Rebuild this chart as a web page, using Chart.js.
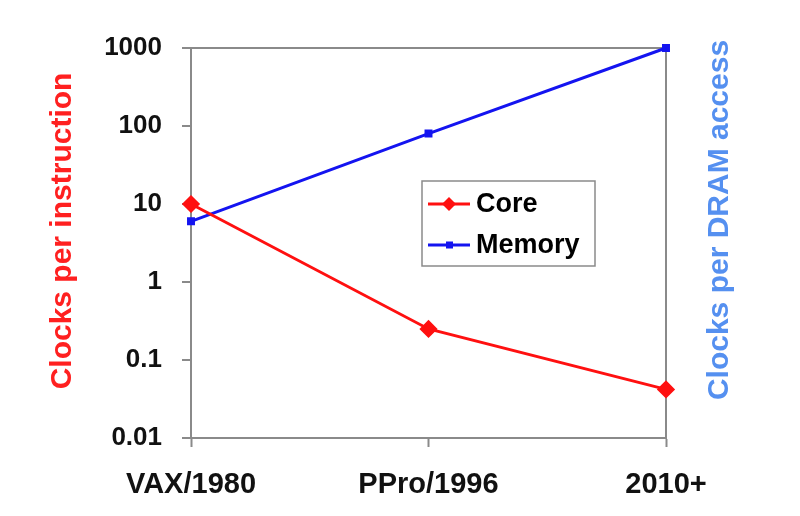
<!DOCTYPE html>
<html>
<head>
<meta charset="utf-8">
<script src="https://cdn.jsdelivr.net/npm/chart.js@4/dist/chart.umd.min.js"></script>
<style>
  html, body { margin: 0; padding: 0; background: #fff; }
  #wrap { width: 800px; height: 516px; }
</style>
</head>
<body>
<div id="wrap"><canvas id="chart"></canvas></div>
<script>
const labels = ["VAX/1980", "PPro/1996", "2010+"];
const coreValues = [10, 0.25, 0.042];
const memoryValues = [6, 80, 1000];
const yTicks = [0.01, 0.1, 1, 10, 100, 1000];
const leftTitle = "Clocks per instruction";
const rightTitle = "Clocks per DRAM access";

const axisGrey = "#8a8a8a";
const FONT = "'Liberation Sans', Arial, sans-serif";

// both axis titles read bottom-to-top in the original, so draw them here
const sideTitles = {
  id: "sideTitles",
  afterDraw(chart) {
    const ctx = chart.ctx;
    ctx.save();
    ctx.font = "bold 30px " + FONT;
    ctx.textAlign = "center";
    ctx.textBaseline = "middle";
    [[63, 231, leftTitle, "#ff2020"], [720, 220, rightTitle, "#5590f0"]].forEach(t => {
      ctx.save();
      ctx.translate(t[0], t[1]);
      ctx.rotate(-Math.PI / 2);
      ctx.fillStyle = t[3];
      ctx.fillText(t[2], 0, 0);
      ctx.restore();
    });
    ctx.restore();
  }
};

// legend box drawn inside the plot, like the original
const boxLegend = {
  id: "boxLegend",
  afterDraw(chart) {
    const ctx = chart.ctx;
    const x = 422, y = 181, w = 173, h = 85;
    ctx.save();
    ctx.fillStyle = "#fff";
    ctx.fillRect(x, y, w, h);
    ctx.strokeStyle = axisGrey;
    ctx.lineWidth = 1.5;
    ctx.strokeRect(x, y, w, h);
    ctx.font = "bold 27px " + FONT;
    ctx.textBaseline = "middle";
    chart.data.datasets.forEach((ds, i) => {
      const cy = i == 0 ? 204 : 245;
      ctx.strokeStyle = ds.borderColor;
      ctx.lineWidth = 3;
      ctx.beginPath();
      ctx.moveTo(428, cy);
      ctx.lineTo(470, cy);
      ctx.stroke();
      ctx.fillStyle = ds.borderColor;
      ctx.beginPath();
      if (ds.pointStyle == "rectRot") {
        ctx.moveTo(449, cy - 7);
        ctx.lineTo(456, cy);
        ctx.lineTo(449, cy + 7);
        ctx.lineTo(442, cy);
        ctx.closePath();
        ctx.fill();
      } else {
        ctx.fillRect(446, cy - 3.5, 7, 7);
      }
      ctx.fillStyle = "#000";
      ctx.fillText(ds.label, 476, cy + 1);
    });
    ctx.restore();
  }
};

new Chart(document.getElementById("chart"), {
  type: "line",
  data: {
    labels: labels,
    datasets: [{
      label: "Core",
      data: coreValues,
      borderColor: "#ff1010",
      backgroundColor: "#ff1010",
      borderWidth: 3,
      pointStyle: "rectRot",
      pointRadius: 7,
      clip: false
    }, {
      label: "Memory",
      data: memoryValues,
      borderColor: "#1414f0",
      backgroundColor: "#1414f0",
      borderWidth: 3,
      pointStyle: "rect",
      pointRadius: 3.5,
      clip: false
    }]
  },
  options: {
    responsive: true,
    maintainAspectRatio: false,
    animation: false,
    layout: { padding: { top: 48, left: 0, right: 0, bottom: 0 } },
    plugins: {
      legend: { display: false },
      tooltip: { enabled: false }
    },
    scales: {
      x: {
        offset: false,
        grid: {
          drawOnChartArea: false,
          tickLength: 9,
          tickColor: axisGrey,
          tickWidth: 2
        },
        border: { color: axisGrey, width: 2 },
        ticks: {
          color: "#111",
          padding: 21,
          maxRotation: 0,
          font: { family: FONT, size: 29, weight: "bold" }
        },
        afterFit(scale) { scale.height = 78; }
      },
      y: {
        type: "logarithmic",
        position: "left",
        min: 0.01,
        max: 1000,
        afterBuildTicks(scale) {
          scale.ticks = yTicks.map(v => ({ value: v }));
        },
        grid: {
          color: c => (c.tick && c.tick.value == 1000) ? axisGrey : "transparent",
          lineWidth: 2,
          tickLength: 9,
          tickColor: axisGrey,
          tickWidth: 2
        },
        border: { color: axisGrey, width: 2 },
        ticks: {
          color: "#111",
          padding: 20,
          font: { family: FONT, size: 26, weight: "bold" },
          callback: v => String(v)
        },
        afterFit(scale) { scale.width = 191; }
      },
      y2: {
        type: "logarithmic",
        position: "right",
        min: 0.01,
        max: 1000,
        grid: { drawOnChartArea: false, drawTicks: false },
        border: { color: axisGrey, width: 2 },
        ticks: { display: false },
        afterFit(scale) { scale.width = 134; }
      }
    }
  },
  plugins: [boxLegend, sideTitles]
});
</script>
</body>
</html>
